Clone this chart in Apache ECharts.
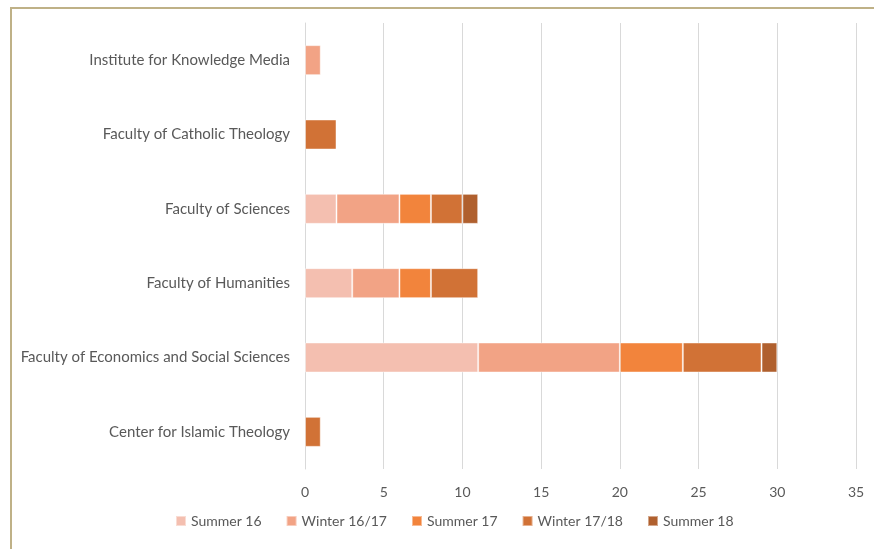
<!DOCTYPE html>
<html>
<head>
<meta charset="utf-8">
<script src="https://cdn.jsdelivr.net/npm/echarts@6/dist/echarts.min.js"></script>
<style>
  html, body { margin: 0; padding: 0; background: #fff; }
  #chart { width: 874px; height: 549px; }
</style>
</head>
<body>
<div id="chart"></div>
<script>
const chart = echarts.init(document.getElementById('chart'));

// bottom to top, as drawn
const faculties = [
  'Center for Islamic Theology',
  'Faculty of Economics and Social Sciences',
  'Faculty of Humanities',
  'Faculty of Sciences',
  'Faculty of Catholic Theology',
  'Institute for Knowledge Media'
];
const semesters = ['Summer 16', 'Winter 16/17', 'Summer 17', 'Winter 17/18', 'Summer 18'];
const summer16 = [0, 11, 3, 2, 0, 0];
const winter1617 = [0, 9, 3, 4, 0, 1];
const summer17 = [0, 4, 2, 2, 0, 0];
const winter1718 = [1, 5, 3, 2, 2, 0];
const summer18 = [0, 1, 0, 1, 0, 0];
const xTicks = [0, 5, 10, 15, 20, 25, 30, 35];

const colors = ['#f4bfb0', '#f2a385', '#f2843c', '#d17236', '#b0602e'];
const seriesValues = [summer16, winter1617, summer17, winter1718, summer18];
const font = 'Lato, "Open Sans", sans-serif';

const option = {
  animation: false,
  textStyle: { fontFamily: font },
  graphic: [
    {
      type: 'rect',
      shape: { x: 11, y: 8, width: 870, height: 560 },
      style: { fill: 'none', stroke: '#bfb187', lineWidth: 2 },
      silent: true
    }
  ],
  grid: { left: 305, right: 18, top: 23, bottom: 80 },
  legend: {
    bottom: 16,
    left: 170,
    itemWidth: 10,
    itemHeight: 10,
    itemGap: 24,
    icon: 'rect',
    textStyle: { color: '#595959', fontSize: 14, fontFamily: font },
    data: semesters
  },
  xAxis: {
    type: 'value',
    min: xTicks[0],
    max: xTicks[xTicks.length - 1],
    interval: 5,
    axisLine: { show: false },
    axisTick: { show: false },
    axisLabel: { color: '#595959', fontSize: 14, margin: 16 },
    splitLine: { lineStyle: { color: '#d9d9d9', width: 1 } }
  },
  yAxis: {
    type: 'category',
    data: faculties,
    axisLine: { show: true, lineStyle: { color: '#d9d9d9' } },
    axisTick: { show: false },
    axisLabel: { color: '#595959', fontSize: 15, margin: 15 }
  },
  series: seriesValues.map((vals, i) => ({
    name: semesters[i],
    type: 'bar',
    stack: 'total',
    barWidth: 30,
    data: vals.map(v => (v === 0 ? null : v)),
    itemStyle: {
      color: colors[i],
      borderColor: 'rgba(255,255,255,0.45)',
      borderWidth: 1
    }
  }))
};
chart.setOption(option);
</script>
</body>
</html>
